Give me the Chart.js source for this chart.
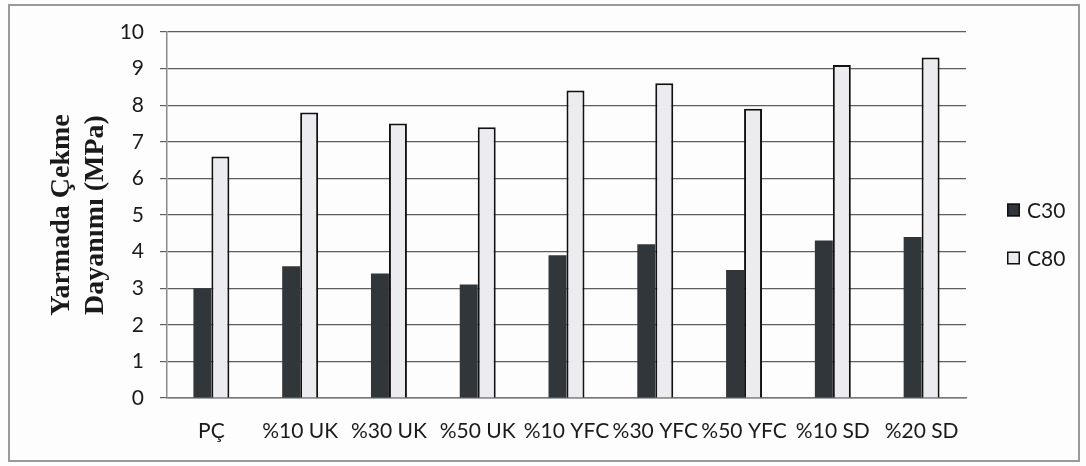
<!DOCTYPE html>
<html>
<head>
<meta charset="utf-8">
<script src="https://cdn.jsdelivr.net/npm/chart.js@4"></script>
<style>
  html, body { margin: 0; padding: 0; background: #fdfdfd; }
  #wrap { position: relative; width: 1086px; height: 466px; }
  #frame { position: absolute; left: 8px; top: 4px; width: 1072px; height: 458px;
           box-sizing: border-box; border: 2px solid #9a9a9a; pointer-events: none; }
  canvas { position: absolute; left: 0; top: 0; }
</style>
</head>
<body>
<div id="wrap">
  <canvas id="chart" width="1086" height="466"></canvas>
  <div id="frame"></div>
</div>
<script>
// Splitting tensile strength of the mixes
const categories = ['PÇ', '%10 UK', '%30 UK', '%50 UK', '%10 YFC', '%30 YFC', '%50 YFC', '%10 SD', '%20 SD'];
const c30 = [3.0, 3.6, 3.4, 3.1, 3.9, 4.2, 3.5, 4.3, 4.4];
const c80 = [6.6, 7.8, 7.5, 7.4, 8.4, 8.6, 7.9, 9.1, 9.3];
const seriesNames = ['C30', 'C80'];
const yTitle = ['Yarmada Çekme', 'Dayanımı (MPa)'];

const LABEL_FONT = { family: 'Lato', size: 21 };
const TEXT = '#1a1a1a';

// Legend drawn to the right of the plot, one square swatch per dataset
const sideLegend = {
  id: 'sideLegend',
  afterDraw(chart) {
    const { ctx, chartArea } = chart;
    const x0 = chartArea.right + 41;
    const yStart = chartArea.top + 178;
    const step = 48;
    const box = 13;
    ctx.save();
    ctx.font = LABEL_FONT.size + 'px ' + LABEL_FONT.family;
    ctx.textBaseline = 'middle';
    ctx.textAlign = 'left';
    chart.data.datasets.forEach((ds, i) => {
      const cy = yStart + i * step;
      ctx.fillStyle = ds.backgroundColor;
      ctx.fillRect(x0, cy - box / 2, box, box);
      ctx.lineWidth = 1.5;
      ctx.strokeStyle = '#111';
      ctx.strokeRect(x0 + 0.75, cy - box / 2 + 0.75, box - 1.5, box - 1.5);
      ctx.fillStyle = TEXT;
      ctx.fillText(ds.label, x0 + box + 7, cy + 1);
    });
    ctx.restore();
  }
};

new Chart(document.getElementById('chart'), {
  type: 'bar',
  data: {
    labels: categories,
    datasets: [
      { label: seriesNames[0], data: c30, backgroundColor: '#31363b',
        borderColor: '#1e2226', borderWidth: 0 },
      { label: seriesNames[1], data: c80, backgroundColor: '#ececf0',
        borderColor: '#111111', borderWidth: 2, borderSkipped: 'bottom' }
    ]
  },
  options: {
    responsive: false,
    devicePixelRatio: 1,
    animation: false,
    categoryPercentage: 0.405,
    barPercentage: 1.0,
    layout: { padding: { left: 0, top: 32, right: 120, bottom: 0 } },
    plugins: { legend: { display: false }, tooltip: { enabled: false } },
    scales: {
      x: {
        grid: { display: false, drawTicks: false },
        border: { display: true, color: '#777', width: 1.5 },
        ticks: { color: TEXT, font: LABEL_FONT, padding: 21, autoSkip: false, maxRotation: 0, minRotation: 0 },
        afterFit(scale) { scale.height = 68; }
      },
      y: {
        min: 0, max: 10,
        ticks: { stepSize: 1, color: TEXT, font: LABEL_FONT, padding: 16 },
        grid: { color: '#5e5e5e', lineWidth: 1.2, tickLength: 7, tickColor: '#5e5e5e' },
        border: { display: true, color: '#8a8a8a', width: 1.5 },
        title: {
          display: true, text: yTitle, color: TEXT,
          font: { family: 'Liberation Serif', size: 28, weight: 'bold', lineHeight: 1.2 },
          padding: { top: 45, bottom: 0 }
        },
        afterFit(scale) { scale.width = 167; }
      }
    }
  },
  plugins: [sideLegend]
});
</script>
</body>
</html>
